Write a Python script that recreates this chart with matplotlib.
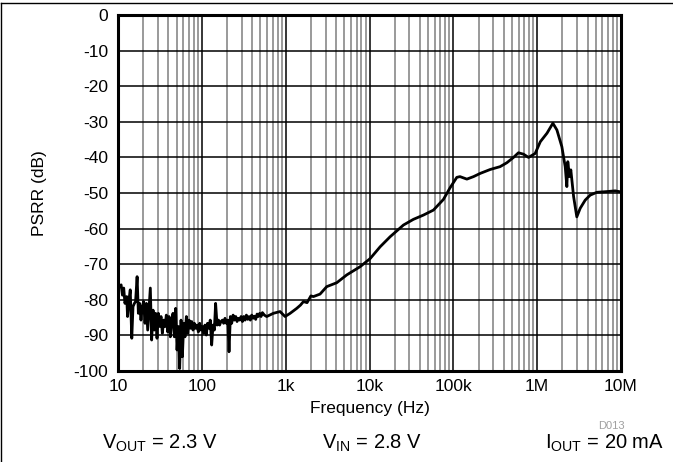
import matplotlib
matplotlib.use('Agg')
import matplotlib.pyplot as plt
from matplotlib.ticker import LogLocator, FixedLocator, NullFormatter
from matplotlib.lines import Line2D

plt.rcParams['font.family'] = ['Liberation Sans', 'DejaVu Sans']
plt.rcParams['mathtext.fontset'] = 'custom'
plt.rcParams['mathtext.rm'] = 'Liberation Sans'
plt.rcParams['axes.unicode_minus'] = False

# Частота (Гц) и PSRR (дБ)
freq = [
    10, 10.3, 10.9, 11.3, 11.7, 12.1, 12.7, 13.0, 13.5, 14.0, 14.6, 15.1, 15.7, 16.2, 16.9,
    17.5, 18.1, 18.8, 19.5, 20.2, 21.0, 21.8, 22.6, 23.4, 24.3, 25.2, 26.2, 27.1, 28.1,
    29.2, 30.3, 31.4, 32.6, 33.8, 35.1, 36.4, 37.7, 39.1, 40.6, 42.1, 43.7, 45.3, 47.0,
    48.8, 50.6, 52.5, 54.4, 56.5, 58.6, 60.8, 63.0, 65.4, 67.8, 70.4, 73.0, 75.7, 78.5,
    81.4, 84.5, 87.6, 90.9, 94.3, 97.8, 101, 105, 109, 113, 117, 122, 126, 131, 136, 141,
    146, 152, 158, 163, 169, 176, 182, 189, 196, 204, 211, 219, 227, 236, 244, 254, 263,
    273, 283, 294, 305, 316, 328, 340, 353, 366, 379, 394, 408, 424, 439, 456, 473, 490,
    509, 528, 557, 594, 713, 857, 984, 1130, 1356, 1500, 1630, 1800, 2000, 2140, 2570,
    3090, 4070, 5360, 7730, 10200, 13400, 17600, 25400, 33400, 44000, 57900, 76200,
    91600, 110000, 120000, 145000, 174000, 209000, 275000, 361000, 435000, 522000,
    598000, 687000, 789000, 946000, 1.09e6, 1.31e6, 1.54e6, 1.72e6, 1.97e6, 2.16e6,
    2.26e6, 2.32e6, 2.43e6, 2.52e6, 2.72e6, 2.97e6, 3.26e6, 3.74e6, 4.29e6, 5.15e6,
    6.78e6, 8.51e6, 1e7,
]
psrr = [
    -77.5, -76.3, -75.8, -78.7, -76.7, -81.0, -79.1, -84.7, -80.1, -77.2, -90.8, -81.9,
    -81.0, -80.5, -73.5, -83.8, -81.0, -85.7, -81.9, -80.5, -86.6, -81.0, -88.5, -82.9,
    -76.7, -91.3, -82.9, -88.5, -83.8, -90.8, -83.8, -87.5, -84.7, -89.4, -85.7, -87.5,
    -84.3, -89.0, -84.7, -90.4, -85.7, -83.8, -90.4, -82.4, -94.1, -87.5, -99.3, -85.7,
    -96.0, -86.6, -90.4, -84.7, -89.4, -85.7, -88.0, -86.1, -88.5, -86.6, -88.0, -87.1,
    -89.0, -86.6, -88.5, -87.5, -89.4, -87.1, -89.9, -86.6, -88.0, -85.7, -92.7, -87.1,
    -88.5, -81.0, -87.1, -85.7, -87.1, -86.1, -85.7, -86.6, -85.2, -86.6, -85.7, -94.6,
    -84.7, -86.6, -84.3, -85.7, -84.7, -86.1, -85.2, -85.7, -84.7, -86.1, -84.7, -85.7,
    -84.3, -85.5, -84.7, -85.7, -84.3, -85.2, -84.6, -85.5, -84.0, -84.7, -83.8, -84.7,
    -83.6, -84.3, -84.7, -83.8, -83.3, -84.7, -83.8, -82.4, -81.5, -80.5, -80.8, -78.9,
    -79.1, -78.4, -76.3, -75.2, -73.0, -70.7, -68.4, -65.1, -62.3, -59.0, -57.4, -56.2,
    -54.8, -51.8, -48.5, -45.6, -45.4, -46.1, -45.4, -44.5, -43.4, -42.6, -41.5, -40.0,
    -38.7, -39.1, -40.0, -38.9, -35.6, -33.2, -30.4, -32.3, -37.0, -42.6, -48.2, -41.2,
    -45.4, -43.5, -51.0, -56.7, -54.3, -52.0, -50.6, -49.8, -49.6, -49.4, -49.7,
]

x_ticks = [10, 100, 1e3, 1e4, 1e5, 1e6, 1e7]
x_labels = ['10', '100', '1k', '10k', '100k', '1M', '10M']
y_ticks = list(range(-100, 1, 10))

fig = plt.figure(figsize=(6.73, 4.62), dpi=100)
ax = fig.add_axes([118/673, 1-371/462, 503/673, 356/462])

ax.semilogx(freq, psrr, color='black', lw=2.0, zorder=3)
ax.set_xlim(10, 1e7)
ax.set_ylim(-100, 0)

ax.xaxis.set_major_locator(FixedLocator(x_ticks))
ax.set_xticklabels(x_labels)
ax.xaxis.set_minor_locator(LogLocator(base=10, subs=range(2, 10), numticks=20))
ax.xaxis.set_minor_formatter(NullFormatter())
ax.set_yticks(y_ticks)

ax.grid(which='major', axis='both', color='black', lw=1.1)
ax.grid(which='minor', axis='x', color='#7f7f7f', lw=1.1)
ax.tick_params(which='both', length=0, labelsize=12.5)
ax.tick_params(axis='y', pad=7)
ax.tick_params(axis='x', pad=6)
for s in ax.spines.values():
    s.set_linewidth(2.2)

ax.set_xlabel('Frequency (Hz)', fontsize=12.5, labelpad=5)
ax.set_ylabel('PSRR (dB)', fontsize=12.5, labelpad=19)

fig.text(611/673, 1-426/462, 'D013', color='#a0a0a0', fontsize=8, ha='center', va='center')
fig.text(160/673, 1-443/462, r'V$_{\mathrm{OUT}}$ = 2.3 V', fontsize=14.5, ha='center', va='center')
fig.text(372/673, 1-443/462, r'V$_{\mathrm{IN}}$ = 2.8 V', fontsize=14.5, ha='center', va='center')
fig.text(664/673, 1-443/462, r'I$_{\mathrm{OUT}}$ = 20 mA', fontsize=14.5, ha='right', va='center')

# рамка вокруг рисунка
fig.add_artist(Line2D([1/673, 1], [1-3/462, 1-3/462], color='black', lw=1, transform=fig.transFigure))
fig.add_artist(Line2D([1/673, 1/673], [0, 1-3/462], color='black', lw=1, transform=fig.transFigure))

fig.savefig('out.png', dpi=100)
